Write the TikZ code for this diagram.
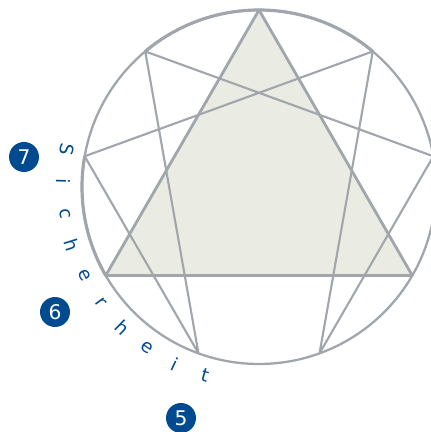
\documentclass[tikz,border=0pt]{standalone}
\usepackage{fontspec}
\setmainfont{DejaVu Sans}
\usetikzlibrary{calc}
\definecolor{ennblue}{RGB}{0,74,143}
\definecolor{enngray}{RGB}{160,166,172}
\definecolor{ennfill}{RGB}{234,235,227}

\begin{document}
\begin{tikzpicture}[x=0.02cm,y=0.02cm,line cap=round,line join=round,
  ring/.style={enngray,line width=1.3pt},
  hexline/.style={enngray,line width=1.2pt},
  triline/.style={enngray,line width=1.6pt},
  badge/.style={circle,fill=ennblue,text=white,minimum size=0.6cm,inner sep=0pt,font=\fontsize{11.5}{12}\selectfont},
  arcletter/.style={text=ennblue,inner sep=0pt,font=\fontsize{10.5}{11}\selectfont}]
\useasboundingbox (0,0) rectangle (431,432);
\clip (0,0) rectangle (431,432);
\coordinate (c) at (259,245);
\foreach \n in {1,...,9} {\coordinate (p\n) at ($(c)+({90-40*\n}:177)$);}
% triangle 9-3-6
\fill[ennfill] (p9) -- (p3) -- (p6) -- cycle;
% outer ring
\draw[ring] (c) circle[radius=177];
\draw[ring,line width=1.8pt] (p8) arc[start angle=130,end angle=50,radius=177];
\draw[ring,line width=1.8pt] (p7) arc[start angle=170,end angle=210,radius=177];
% hexad 1-4-2-8-5-7
\draw[hexline] (p1) -- (p4) -- (p2) -- (p8) -- (p5) -- (p7) -- cycle;
\draw[triline] (p9) -- (p3) -- (p6) -- cycle;
% badges
\node[badge] (b7) at (24,275) {7};
\node[badge] (b6) at (55,120) {6};
\node[badge] (b5) at (181,14) {5};
% lettering round the ring
\foreach \ch [count=\k from 0] in {S,i,c,h,e,r,h,e,i,t}
  \node[arcletter,rotate={259+9.45*\k}] (s\k) at ($(c)+({169+9.45*\k}:196)$) {\ch};
\end{tikzpicture}
\end{document}
